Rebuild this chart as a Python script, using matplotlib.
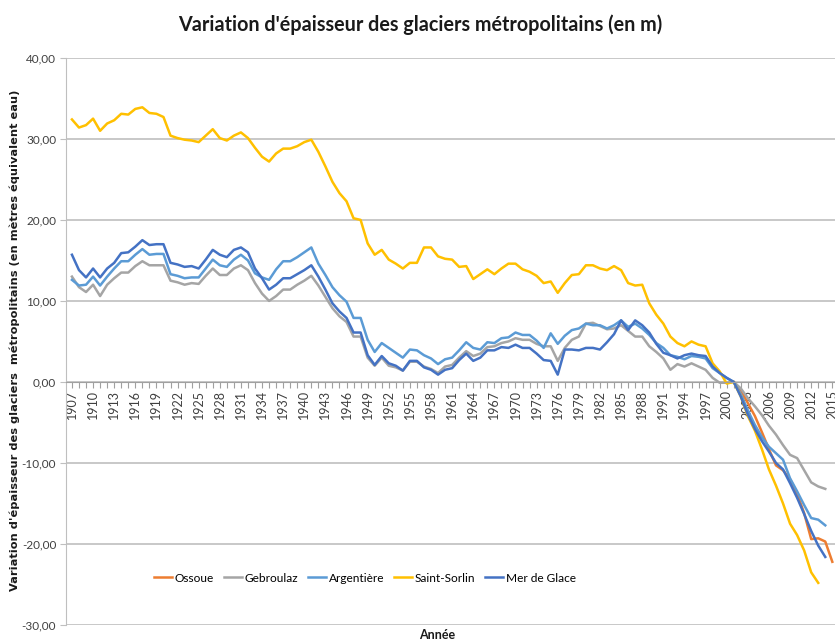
import numpy as np
import matplotlib
matplotlib.use("Agg")
import matplotlib.pyplot as plt

# Données (variation cumulée, m équivalent eau)
years_main = np.arange(1907, 2015)      # Gebroulaz, Argentière, Mer de Glace
years_sorlin = np.arange(1907, 2014)    # Saint-Sorlin
years_ossoue = np.arange(2001, 2016)    # Ossoue

ossoue = [0.0, -1.0, -2.6, -4.2, -6.2, -8.3, -10.3, -10.9, -12.0, -13.8,
          -16.2, -19.4, -19.3, -19.7, -22.2]

gebroulaz = [13.0, 11.7, 11.1, 12.0, 10.6, 12.0, 12.8, 13.5, 13.5, 14.3,
             14.9, 14.4, 14.4, 14.4, 12.5, 12.3, 12.0, 12.2, 12.1, 13.1,
             14.0, 13.2, 13.2, 14.0, 14.4, 13.8, 12.2, 10.9, 10.0, 10.6,
             11.4, 11.4, 12.0, 12.5, 13.1, 11.9, 10.5, 9.1, 8.1, 7.4,
             5.6, 5.6, 3.0, 2.0, 3.0, 2.0, 1.8, 1.4, 2.5, 2.5,
             1.9, 1.6, 1.1, 1.9, 2.1, 3.0, 3.8, 3.2, 3.5, 4.3,
             4.4, 4.8, 5.0, 5.4, 5.2, 5.2, 4.7, 4.4, 4.4, 2.6,
             4.2, 5.2, 5.6, 7.2, 7.3, 6.9, 6.5, 6.6, 7.0, 6.3,
             5.6, 5.6, 4.4, 3.7, 2.9, 1.5, 2.2, 1.9, 2.3, 1.9,
             1.5, 0.5, -0.1, -0.1, 0.0, -0.8, -2.0, -3.0, -4.1, -5.4,
             -6.5, -7.8, -9.0, -9.4, -10.9, -12.4, -12.9, -13.2]

argentiere = [12.6, 11.9, 12.0, 13.0, 11.9, 13.0, 14.0, 14.9, 14.9, 15.7,
              16.4, 15.7, 15.8, 15.8, 13.3, 13.1, 12.8, 12.9, 12.9, 14.0,
              15.1, 14.4, 14.2, 15.1, 15.7, 15.0, 13.4, 12.9, 12.6, 13.9,
              14.9, 14.9, 15.4, 16.0, 16.6, 14.6, 13.2, 11.7, 10.7, 9.9,
              7.9, 7.9, 5.2, 3.7, 4.8, 4.2, 3.6, 3.0, 4.0, 3.9,
              3.3, 2.9, 2.2, 2.8, 3.0, 3.9, 4.9, 4.2, 4.0, 4.9,
              4.8, 5.4, 5.5, 6.1, 5.8, 5.8, 5.1, 4.2, 6.0, 4.7,
              5.7, 6.4, 6.6, 7.2, 7.0, 7.0, 6.6, 7.0, 7.6, 6.8,
              7.2, 6.6, 5.8, 4.8, 4.2, 3.3, 3.1, 2.8, 3.2, 3.1,
              2.9, 1.7, 1.1, 0.5, 0.0, -1.5, -3.5, -5.3, -6.8, -8.0,
              -8.8, -9.6, -11.9, -13.5, -15.2, -16.8, -17.0, -17.7]

saint_sorlin = [32.4, 31.4, 31.7, 32.5, 31.0, 31.9, 32.3, 33.1, 33.0, 33.7,
                33.9, 33.2, 33.1, 32.7, 30.4, 30.1, 29.9, 29.8, 29.6, 30.4,
                31.2, 30.1, 29.8, 30.4, 30.8, 30.1, 28.9, 27.8, 27.2, 28.2,
                28.8, 28.8, 29.1, 29.6, 29.9, 28.4, 26.6, 24.7, 23.3, 22.3,
                20.2, 20.0, 17.1, 15.7, 16.3, 15.1, 14.6, 14.0, 14.7, 14.7,
                16.6, 16.6, 15.5, 15.2, 15.1, 14.2, 14.3, 12.7, 13.3, 13.9,
                13.3, 14.0, 14.6, 14.6, 13.9, 13.6, 13.1, 12.2, 12.4, 11.0,
                12.2, 13.2, 13.3, 14.4, 14.4, 14.0, 13.8, 14.3, 13.8, 12.2,
                11.9, 12.0, 9.7, 8.3, 7.2, 5.6, 4.8, 4.4, 5.0, 4.6,
                4.4, 2.3, 1.3, -0.2, 0.0, -1.8, -4.2, -6.0, -8.3, -10.8,
                -12.8, -15.0, -17.5, -18.9, -20.8, -23.5, -24.8]

mer_de_glace = [15.7, 13.8, 12.9, 14.0, 12.9, 14.0, 14.7, 15.9, 16.0, 16.7,
                17.5, 16.9, 17.0, 17.0, 14.7, 14.5, 14.2, 14.3, 14.0, 15.1,
                16.3, 15.7, 15.4, 16.3, 16.6, 16.0, 14.0, 12.8, 11.4, 12.0,
                12.8, 12.8, 13.3, 13.8, 14.4, 13.0, 11.4, 9.7, 8.7, 7.9,
                6.1, 6.1, 3.3, 2.1, 3.2, 2.3, 2.0, 1.4, 2.6, 2.6,
                1.8, 1.5, 0.9, 1.5, 1.7, 2.7, 3.5, 2.6, 3.0, 3.9,
                3.9, 4.3, 4.2, 4.6, 4.2, 4.2, 3.5, 2.7, 2.6, 0.9,
                4.0, 4.0, 3.9, 4.2, 4.2, 4.0, 4.9, 5.9, 7.6, 6.4,
                7.6, 7.0, 6.1, 4.7, 3.6, 3.3, 2.9, 3.3, 3.5, 3.3,
                3.2, 1.9, 1.1, 0.5, 0.0, -1.8, -4.0, -5.8, -7.3, -8.6,
                -10.0, -10.8, -12.5, -14.3, -16.3, -18.4, -20.2, -21.6]

y_ticks = [-30, -20, -10, 0, 10, 20, 30, 40]

fonts = ['Lato', 'DejaVu Sans']

fig = plt.figure(figsize=(8.35, 6.43), dpi=100)
ax = fig.add_axes([0.079, 0.028, 0.922, 0.882])

# position de l'axe avant les ticks (set_position réinitialise les ticks)
ax.spines['bottom'].set_position(('data', 0))
ax.spines['bottom'].set_color('#a0a0a0')
ax.spines['left'].set_color('#bfbfbf')
ax.spines['top'].set_visible(False)
ax.spines['right'].set_visible(False)

ax.plot(years_ossoue, ossoue, color='#ED7D31', lw=1.8, label='Ossoue')
ax.plot(years_main, gebroulaz, color='#A5A5A5', lw=1.8, label='Gebroulaz')
ax.plot(years_main, argentiere, color='#5B9BD5', lw=1.8, label='Argentière')
ax.plot(years_sorlin, saint_sorlin, color='#FFC000', lw=1.8, label='Saint-Sorlin')
ax.plot(years_main, mer_de_glace, color='#4472C4', lw=1.8, label='Mer de Glace')

ax.set_xlim(1906.15, 2015.5)
ax.set_ylim(-30, 40)

ax.set_yticks(y_ticks)
ax.set_yticklabels([f"{v:.2f}".replace('.', ',') for v in y_ticks],
                   fontsize=8.5, color='#404040', family=fonts)
ax.yaxis.grid(True, color='#bfbfbf', lw=1.2)
ax.set_axisbelow(True)

all_years = np.arange(1907, 2016)
ax.set_xticks(all_years)
ax.set_xticklabels([str(y) if (y - 1907) % 3 == 0 else '' for y in all_years],
                   rotation=90, fontsize=9, color='#404040', family=fonts)
ax.tick_params(axis='x', length=4, color='#a0a0a0', pad=2)
ax.tick_params(axis='y', length=4, color='#bfbfbf', pad=3)

fig.text(0.503, 0.961, "Variation d'épaisseur des glaciers métropolitains (en m)",
         ha='center', va='center', fontsize=14.2, fontweight='bold',
         family=fonts, color='#1a1a1a')
fig.text(0.018, 0.47,
         "Variation d'épaisseur des glaciers  métropolitains (en mètres équivalent eau)",
         rotation=90, ha='center', va='center', fontsize=8.2,
         fontweight='bold', color='#1a1a1a')
fig.text(0.523, 0.012, "Année", ha='center', va='center', fontsize=9,
         fontweight='bold', family=fonts, color='#1a1a1a')

fig.legend(loc='center', bbox_to_anchor=(0.437, 0.101), ncol=5, frameon=False,
           handlelength=1.5, columnspacing=0.8, handletextpad=0.25,
           prop={'family': fonts, 'size': 8.6})

fig.savefig('out.png', dpi=100)
